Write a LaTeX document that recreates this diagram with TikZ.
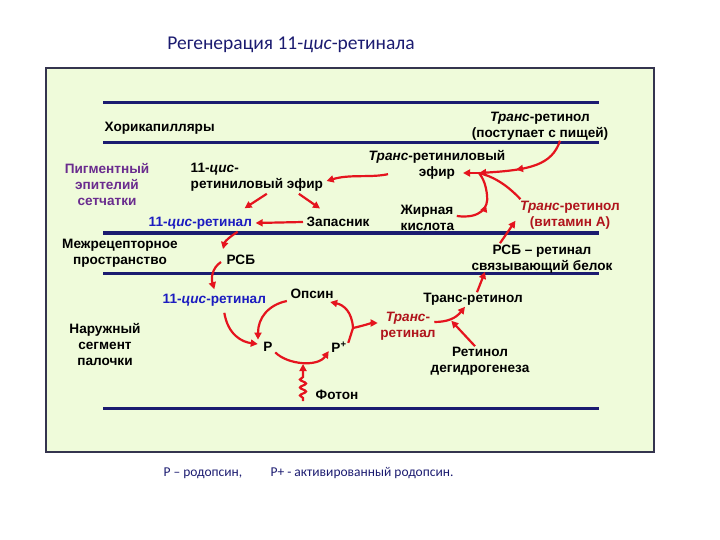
\documentclass[tikz,border=0pt]{standalone}
\usepackage{fontspec}
\setmainfont{Liberation Sans}
\newfontfamily\calfont{Carlito}
\usetikzlibrary{arrows.meta,decorations.pathmorphing,decorations.markings}

\definecolor{navy}{HTML}{1B1B70}
\definecolor{panel}{HTML}{EFFBDA}
\definecolor{frame}{HTML}{34344E}
\definecolor{arrred}{HTML}{E5141E}
\definecolor{darkred}{HTML}{B0141C}
\definecolor{purp}{HTML}{6A2C8E}
\definecolor{cisblue}{HTML}{1C1CC0}

\begin{document}
\begin{tikzpicture}[x=1pt,y=-1pt,
    lbl/.style={font=\bfseries\fontsize{13.6}{16}\selectfont, inner sep=0.5pt, align=center},
    bar/.style={navy, line width=3pt},
    arr/.style={arrred, line width=2.2pt, -{Triangle[length=7pt,width=7pt]}},
    midarr/.style={postaction={decorate}, decoration={markings,
        mark=at position #1 with {\arrow{Triangle[length=7pt,width=7pt]}}}}]
        \useasboundingbox (0,0) rectangle (720,540);
        % panel and title
        \draw[frame, line width=1.5pt, fill=panel] (46,68) rectangle (654,452);
        \node[font=\calfont\fontsize{19.5}{22}\selectfont, text=navy] (title) at (291,45) {Регенерация 11-\textit{цис}-ретинала};
        % layers
        \foreach \y in {103,143,233,273,408} {
            \draw[bar] (103,\y) -- (599,\y);
        }
        % labels
        \node[lbl, anchor=west] (chor) at (104,128) {Хорикапилляры};
        \node[lbl] (food) at (540,126) {\textit{Транс}-ретинол\\(поступает с пищей)};
        \node[lbl, text=purp] (pigm) at (107,185) {Пигментный\\эпителий\\сетчатки};
        \node[lbl, anchor=west, align=left] (cisest) at (190,177) {11-\textit{цис}-\\ретиниловый эфир};
        \node[lbl] (trest) at (437,165) {\textit{Транс}-ретиниловый\\эфир};
        \node[lbl, text=cisblue, anchor=west] (cisral) at (148,223) {11-\textit{цис}-ретинал};
        \node[lbl, anchor=west] (store) at (306,222) {Запасник};
        \node[lbl, anchor=west, align=left] (fat) at (400,218) {Жирная\\кислота};
        \node[lbl, text=darkred] (vita) at (570,215) {\textit{Транс}-ретинол\\(витамин А)};
        \node[lbl] (inter) at (120,253) {Межрецепторное\\пространство};
        \node[lbl, anchor=west] (rbp) at (226,260) {РСБ};
        \node[lbl] (rbpfull) at (542,259) {РСБ – ретинал\\связывающий белок};
        \node[lbl, text=cisblue, anchor=west] (cisrod) at (162,300) {11-\textit{цис}-ретинал};
        \node[lbl] (opsin) at (312,294) {Опсин};
        \node[lbl] (trol) at (473,299) {Транс-ретинол};
        \node[lbl] (rod) at (105,345) {Наружный\\сегмент\\палочки};
        \node[lbl] (rh) at (268,347) {Р};
        \node[lbl] (rha) at (339,347) {Р\textsuperscript{+}};
        \node[lbl, text=darkred] (tral) at (408,326) {\textit{Транс}-\\ретинал};
        \node[lbl] (rdh) at (480,361) {Ретинол\\дегидрогенеза};
        \node[lbl, anchor=west] (photon) at (315,395) {Фотон};
        % junctions
        \coordinate (jn) at (479,173);
        \coordinate (fk) at (353,328);
        \coordinate (arcmid) at (303,364);
        % arrows, pigment epithelium
        \draw[arr, midarr=0.6] ([shift={(20,0)}]food.south) .. controls (552,165) and (530,170) .. (jn);
        \draw[arr] (jn) -- ([shift={(26,8)}]trest.center);
        \draw[arr, arrows=-, midarr=0.5] ([shift={(2,-2)}]fat.east) .. controls (480,219) and (489,208) .. (487,195) .. controls (486,185) and (483,178) .. (jn);
        \draw[arrred, line width=2.2pt] ([shift={(1,-1)}]vita.north west) .. controls (508,186) and (495,177) .. (jn);
        \draw[arr] ([shift={(20,-6)}]trest.south west) .. controls (370,178) and (350,174) .. ([shift={(3,4)}]cisest.east);
        \draw[arr] ([shift={(10,2)}]cisest.south) -- ([shift={(-8,-8)}]cisral.north east);
        \draw[arr] ([shift={(42,2)}]cisest.south) -- ([shift={(14,-8)}]store.north west);
        \draw[arr] ([shift={(-3,0)}]store.west) -- ([shift={(3,0)}]cisral.east);
        % arrows, interreceptor space
        \draw[arr] ([shift={(-15,2)}]cisral.south east) .. controls (231,236) and (225,241) .. ([shift={(-3,-11)}]rbp.west);
        \draw[arr] ([shift={(-5,2)}]rbp.west) .. controls (212,268) and (211,278) .. ([shift={(0,-4)}]cisrod.north);
        \draw[arr] ([shift={(-42,-1)}]rbpfull.north) -- ([shift={(-4,-9)}]vita.south west);
        % arrows, rod outer segment
        \draw[arr] ([shift={(10,6)}]cisrod.south) .. controls (228,335) and (242,342) .. ([shift={(-5,-3)}]rh.west);
        \draw[arr] ([shift={(-3,7)}]opsin.west) .. controls (268,305) and (258,318) .. ([shift={(-10,-2)}]rh.north);
        \draw[arr] ([shift={(2,0)}]rh.south east) .. controls (288,365) and (318,367) .. ([shift={(-2,-2)}]rha.south west);
        \draw[arrred, line width=2.2pt] ([shift={(1,2)}]rha.north east) -- (fk);
        \draw[arr] (fk) .. controls (352,312) and (344,305) .. ([shift={(-4,8)}]opsin.east);
        \draw[arr] (fk) .. controls (362,326) and (372,323) .. ([shift={(-2,-3)}]tral.west);
        \draw[arr] ([shift={(-2,-4)}]tral.east) .. controls (448,322) and (456,318) .. ([shift={(-8,1)}]trol.south) coordinate[pos=0.45] (trmid);
        \draw[arr, shorten >=2pt] ([shift={(-5,0)}]rdh.north) -- (trmid);
        \draw[arr] ([shift={(4,0)}]trol.north) -- ([shift={(-57,-2)}]rbpfull.south);
        \draw[arr, decorate, decoration={snake, amplitude=3pt, segment length=8pt, pre length=3pt, post length=12pt}] ([shift={(-12,6)}]photon.west) -- (arcmid);
        % legend
        \node[font=\calfont\fontsize{13.5}{15}\selectfont, text=navy, anchor=west] (legP) at (160,473) {Р – родопсин,};
        \node[font=\calfont\fontsize{13.5}{15}\selectfont, text=navy, anchor=west] (legPa) at (267,473) {Р+ - активированный родопсин.};
    \end{tikzpicture}
\end{document}
